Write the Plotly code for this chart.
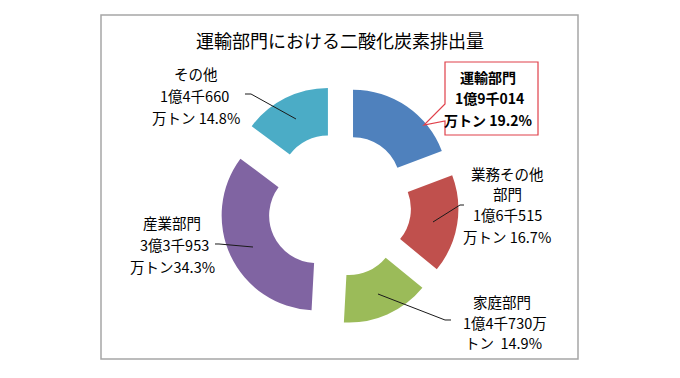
import plotly.graph_objects as go

# ---- data ----
categories = ["運輸部門", "業務その他部門", "家庭部門", "産業部門", "その他"]
amounts = ["1億9千014", "1億6千515", "1億4千730", "3億3千953", "1億4千660"]
percents = [19.2, 16.7, 14.9, 34.3, 14.8]
colors = ["#4F81BD", "#C0504D", "#9BBB59", "#8064A2", "#4BACC6"]
title = "運輸部門における二酸化炭素排出量"

W, H = 680, 378
FONT = "Noto Sans CJK JP"


def px(x):
    return x / W


def py(y):
    return 1 - y / H


cx, cy, half = 339, 205, 119.7

fig = go.Figure()
fig.add_trace(go.Pie(
    labels=categories,
    values=percents,
    marker=dict(colors=colors, line=dict(width=0)),
    hole=0.5,
    pull=[0.26] * len(percents),
    sort=False,
    direction="clockwise",
    rotation=0,
    textinfo="none",
    hoverinfo="label+percent",
    showlegend=False,
    domain=dict(x=[px(cx - half), px(cx + half)], y=[py(cy + half), py(cy - half)]),
))

# label lines (text built from data arrays)
label_lines = {
    0: ([categories[0], amounts[0], f"万トン {percents[0]}%"], [(488, 77), (489, 98), (488, 120)], True),
    1: (["業務その他", "部門", amounts[1], f"万トン {percents[1]}%"], [(507, 173), (507, 193), (507, 214), (507, 236)], False),
    2: ([categories[2], amounts[2] + "万", f"トン  {percents[2]}%"], [(502, 301), (505, 322), (503, 342)], False),
    3: ([categories[3], amounts[3], f"万トン{percents[3]}%"], [(172, 222), (175, 244), (172, 266)], False),
    4: ([categories[4], amounts[4], f"万トン {percents[4]}%"], [(196, 73), (194, 95), (196, 117)], False),
}

shapes = []
# outer frame
shapes.append(dict(type="rect", xref="paper", yref="paper",
                   x0=px(101), x1=px(578), y0=py(359), y1=py(15),
                   line=dict(color="#A6A6A6", width=1.5), fillcolor="rgba(0,0,0,0)", layer="below"))

# callout box for 運輸部門
pts = [(445, 62), (538, 62), (538, 135), (445, 135), (445, 121), (424, 125), (445, 104)]
path = "M " + " L ".join(f"{px(x):.5f},{py(y):.5f}" for x, y in pts) + " Z"
shapes.append(dict(type="path", xref="paper", yref="paper", path=path,
                   line=dict(color="#E0404A", width=1.2), fillcolor="white"))

# leader lines
leaders = [
    [(433, 222), (460, 205), (464, 205)],
    [(378, 294), (445, 320), (451, 320)],
    [(215, 244), (219, 244), (253, 247)],
    [(245, 94), (251, 94), (296, 119)],
]
for ln in leaders:
    p = "M " + " L ".join(f"{px(x):.5f},{py(y):.5f}" for x, y in ln)
    shapes.append(dict(type="path", xref="paper", yref="paper", path=p,
                       line=dict(color="#1a1a1a", width=1)))

annotations = [dict(text=title, x=px(340), y=py(40), xref="paper", yref="paper",
                    showarrow=False, xanchor="center", yanchor="middle",
                    font=dict(family=FONT, size=18, color="#000000"))]
for k, (lines, pos, bold) in label_lines.items():
    for t, (x, y) in zip(lines, pos):
        annotations.append(dict(text=f"<b>{t}</b>" if bold else t, x=px(x), y=py(y),
                                xref="paper", yref="paper", showarrow=False,
                                xanchor="center", yanchor="middle",
                                font=dict(family=FONT, size=14 if bold else 14.5, color="#000000")))

fig.update_layout(
    width=W, height=H,
    margin=dict(l=0, r=0, t=0, b=0),
    paper_bgcolor="white", plot_bgcolor="white",
    shapes=shapes, annotations=annotations,
    font=dict(family=FONT),
)

fig.write_html("out.html", config={"displayModeBar": False},
               post_script="document.body.style.margin='0px';document.body.style.overflow='hidden';")
